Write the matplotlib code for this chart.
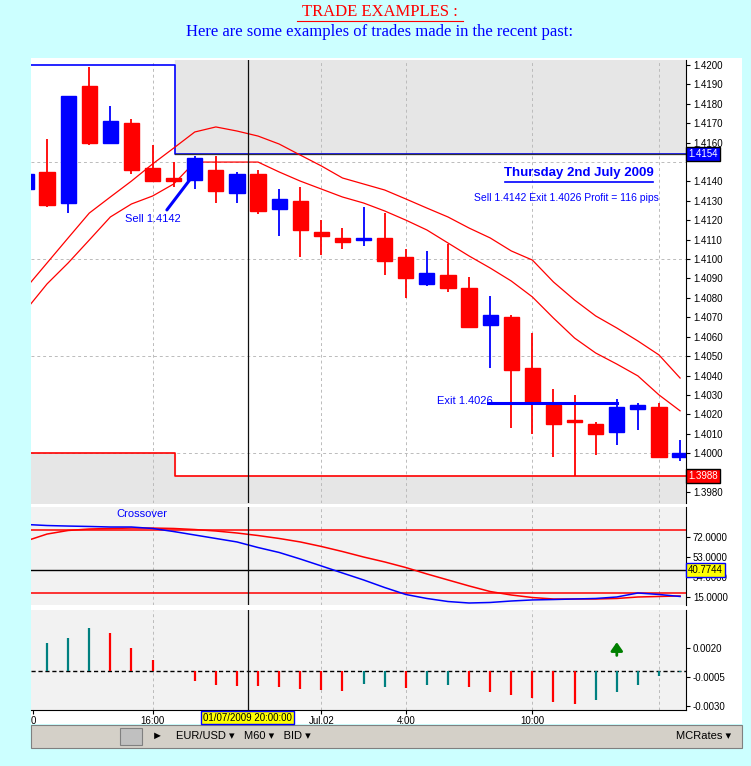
import numpy as np
import matplotlib
matplotlib.use("Agg")
import matplotlib.pyplot as plt
from matplotlib.patches import Rectangle

plt.rcParams['font.family'] = ['Liberation Sans', 'DejaVu Sans']

# hourly EUR/USD candles (open, high, low, close)
opens = [1.4136, 1.4145, 1.4129, 1.4189, 1.4160, 1.4170, 1.4147, 1.4142, 1.4141, 1.4146,
         1.4134, 1.4144, 1.4126, 1.4130, 1.4114, 1.4111, 1.4110, 1.4111, 1.4101, 1.4087,
         1.4092, 1.4085, 1.4066, 1.4070, 1.4044, 1.4025, 1.4017, 1.4015, 1.4011, 1.4023,
         1.4024, 1.3998]
highs = [1.4146, 1.4162, 1.4184, 1.4199, 1.4179, 1.4172, 1.4159, 1.4150, 1.4153, 1.4153,
         1.4145, 1.4146, 1.4136, 1.4137, 1.4120, 1.4116, 1.4127, 1.4124, 1.4105, 1.4104,
         1.4108, 1.4091, 1.4081, 1.4071, 1.4062, 1.4033, 1.4030, 1.4016, 1.4028, 1.4026,
         1.4026, 1.4007]
lows = [1.4134, 1.4127, 1.4124, 1.4159, 1.4160, 1.4144, 1.4140, 1.4137, 1.4136, 1.4129,
        1.4129, 1.4123, 1.4112, 1.4101, 1.4102, 1.4105, 1.4107, 1.4092, 1.4080, 1.4086,
        1.4083, 1.4065, 1.4044, 1.4013, 1.4010, 1.3998, 1.3988, 1.3999, 1.4004, 1.4012,
        1.3998, 1.3996]
closes = [1.4144, 1.4128, 1.4184, 1.4160, 1.4171, 1.4146, 1.4140, 1.4140, 1.4152, 1.4135,
          1.4144, 1.4125, 1.4131, 1.4115, 1.4112, 1.4109, 1.4111, 1.4099, 1.4090, 1.4093,
          1.4085, 1.4065, 1.4071, 1.4043, 1.4026, 1.4015, 1.4016, 1.4010, 1.4024, 1.4025,
          1.3998, 1.4000]

band_upper = [1.40851, 1.40980, 1.41109, 1.41237, 1.41320, 1.41402, 1.41490, 1.41572, 1.41655, 1.41681,
              1.41660, 1.41634, 1.41593, 1.41536, 1.41480, 1.41418, 1.41387, 1.41356, 1.41310, 1.41263,
              1.41217, 1.41160, 1.41109, 1.41042, 1.40995, 1.40882, 1.40789, 1.40707, 1.40645, 1.40578,
              1.40506, 1.40387]
band_lower = [1.40738, 1.40872, 1.40980, 1.41098, 1.41217, 1.41284, 1.41325, 1.41387, 1.41500, 1.41500,
              1.41500, 1.41500, 1.41449, 1.41402, 1.41361, 1.41320, 1.41289, 1.41248, 1.41201, 1.41150,
              1.41083, 1.41016, 1.40954, 1.40887, 1.40805, 1.40696, 1.40593, 1.40516, 1.40459, 1.40398,
              1.40300, 1.40218]

stoch_blue = [83.9, 82.9, 82.4, 82.0, 81.5, 81.5, 80.1, 77.2, 73.9, 70.6, 67.3, 62.0, 57.3, 51.1, 44.5, 37.8,
              31.2, 24.0, 17.4, 13.6, 10.7, 9.3, 9.8, 11.2, 12.2, 12.6, 13.1, 13.6, 15.0, 18.8, 17.4, 15.5]
stoch_red = [68.2, 74.8, 78.2, 79.6, 80.1, 80.5, 80.5, 80.1, 79.1, 77.7, 75.8, 73.4, 70.6, 67.3, 63.0, 58.2,
             53.0, 48.3, 43.0, 36.9, 31.2, 25.5, 20.2, 16.9, 14.5, 13.1, 13.1, 13.1, 13.6, 15.0, 15.5, 16.0]

hist = [0.0, 0.00237, 0.0028, 0.00364, 0.00322, 0.00195, 0.00096, 0.0, -0.00082, -0.00116,
        -0.00124, -0.00124, -0.00133, -0.0015, -0.00158, -0.00167, -0.0011, -0.00138, -0.00144, -0.00121,
        -0.00116, -0.00138, -0.00175, -0.00201, -0.00229, -0.00265, -0.00277, -0.00248, -0.0018, -0.00116,
        -0.00045, -0.0001]
hist_up = [False, True, True, True, False, False, False, False, False, False,
           False, False, False, False, False, False, True, True, False, True,
           True, False, False, False, False, False, False, True, True, True,
           True, True]

price_ticks = [1.4200, 1.4190, 1.4180, 1.4170, 1.4160, 1.4140, 1.4130, 1.4120, 1.4110, 1.4100,
               1.4090, 1.4080, 1.4070, 1.4060, 1.4050, 1.4040, 1.4030, 1.4020, 1.4010, 1.4000, 1.3980]
time_pos = [0.35, 6, 14, 18, 24]
time_labels = ["0", "16:00", "Jul.02", "4:00", "10:00"]
grid_pos = [6, 14, 18, 24, 30]

W, H = 751, 766
BG = '#ccffff'
RED = '#ff0000'
BLUE = '#0000ff'
STEP = 7.06  # where the box / range lines step


def px_axes(fig, l, t, r, b):
    return fig.add_axes([l / W, 1 - b / H, (r - l) / W, (b - t) / H])


fig = plt.figure(figsize=(W / 100, H / 100), dpi=100, facecolor=BG)

# white chart frame + toolbar
fig.patches.append(Rectangle((31 / W, 1 - 724 / H), 711 / W, 666 / H, transform=fig.transFigure,
                             facecolor='white', edgecolor='none', zorder=-5))
fig.patches.append(Rectangle((31 / W, 1 - 748 / H), 711 / W, 23 / H, transform=fig.transFigure,
                             facecolor='#d4d0c8', edgecolor='#808080', lw=0.8, zorder=-5))
fig.patches.append(Rectangle((120 / W, 1 - 745 / H), 22 / W, 17 / H, transform=fig.transFigure,
                             facecolor='#c0c0c0', edgecolor='#808080', lw=0.8, zorder=-4))
fig.text(157 / W, 1 - 736 / H, "►", fontsize=8, va='center', ha='center', color='black')
fig.text(176 / W, 1 - 736 / H, "EUR/USD ▾   M60 ▾   BID ▾", fontsize=8, va='center')
fig.text(704 / W, 1 - 736 / H, "MCRates ▾", fontsize=8, va='center', ha='center')

fig.text(380 / W, 1 - 12 / H, "TRADE EXAMPLES :", color=RED, fontsize=12, ha='center', va='center',
         family='Liberation Serif')
fig.add_artist(plt.Line2D([297 / W, 463 / W], [1 - 21 / H, 1 - 21 / H], color=RED, lw=0.8))
fig.text(380 / W, 1 - 32 / H, "Here are some examples of trades made in the recent past:", color=BLUE,
         fontsize=12, ha='center', va='center', family='Liberation Serif')

idx = np.arange(len(opens))
xlim = (0.24, 31.28)

# ---- main price panel ----
ax = px_axes(fig, 31, 60, 686, 503)
ax.set_xlim(*xlim)
ax.set_ylim(1.39743, 1.42026)
ax.fill_between([STEP, 31.3], 1.4154, 1.4203, color='#e6e6e6', zorder=0)
ax.fill_between([0.2, STEP], 1.3974, 1.4000, color='#e6e6e6', zorder=0)
ax.fill_between([STEP, 31.3], 1.3974, 1.3988, color='#e6e6e6', zorder=0)
ax.plot([0.2, STEP, STEP, 31.3], [1.4200, 1.4200, 1.4154, 1.4154], color=BLUE, lw=1.2, zorder=1)
ax.plot([STEP, 31.3], [1.4154, 1.4154], color='#303030', lw=0.9, zorder=1)
ax.plot([0.2, STEP, STEP, 31.3], [1.4000, 1.4000, 1.3988, 1.3988], color=RED, lw=1.2, zorder=1)
for g in grid_pos:
    ax.axvline(g, color='#bbbbbb', ls=(0, (3, 3)), lw=0.7, zorder=0)
for p in [1.4150, 1.4100, 1.4050, 1.4000]:
    ax.axhline(p, color='#bbbbbb', ls=(0, (3, 3)), lw=0.7, zorder=0)
ax.plot(idx, band_upper, color=RED, lw=0.9, zorder=2)
ax.plot(idx, band_lower, color=RED, lw=0.9, zorder=2)
for i in idx:
    c = BLUE if closes[i] >= opens[i] else RED
    ax.vlines(i, lows[i], highs[i], color=c, lw=1.3, zorder=3)
    lo, hi = min(opens[i], closes[i]), max(opens[i], closes[i])
    ax.add_patch(Rectangle((i - 0.36, lo), 0.72, max(hi - lo, 0.00008), color=c, zorder=4))
ax.axvline(10.5, color='#101010', lw=0.9, zorder=5)
ax.annotate("", xy=(8.0, 1.41442), xytext=(6.6, 1.41242),
            arrowprops=dict(arrowstyle='-', color=BLUE, lw=2.2))
ax.text(6.0, 1.41205, "Sell 1.4142", color=BLUE, fontsize=8, ha='center', va='center')
ax.plot([21.9, 28.0], [1.4026, 1.4026], color=BLUE, lw=2.2, zorder=5)
ax.text(20.8, 1.4027, "Exit 1.4026", color=BLUE, fontsize=8, ha='center', va='center')
ax.text(26.2, 1.41445, "Thursday 2nd July 2009", color=BLUE, fontsize=9.5, fontweight='bold',
        ha='center', va='center')
ax.plot([22.7, 29.7], [1.41395, 1.41395], color=BLUE, lw=1.2)
ax.text(25.6, 1.41315, "Sell 1.4142 Exit 1.4026 Profit = 116 pips", color=BLUE, fontsize=7.5,
        ha='center', va='center')
ax.yaxis.tick_right()
ax.set_yticks(price_ticks)
ax.set_yticklabels([f"{p:.4f}" for p in price_ticks], fontsize=7)
ax.set_xticks([])
ax.tick_params(axis='y', length=3, pad=2)
for s in ['top', 'left', 'bottom']:
    ax.spines[s].set_visible(False)
ax.text(1.003, (1.4154 - 1.39743) / (1.42026 - 1.39743), "1.4154", transform=ax.transAxes, fontsize=7,
        color='white', va='center', ha='left', bbox=dict(facecolor=BLUE, edgecolor='black', pad=1.5))
ax.text(1.003, (1.3988 - 1.39743) / (1.42026 - 1.39743), "1.3988", transform=ax.transAxes, fontsize=7,
        color='white', va='center', ha='left', bbox=dict(facecolor=RED, edgecolor='black', pad=1.5))

# ---- oscillator panel ----
ax2 = px_axes(fig, 31, 507, 686, 605)
ax2.set_facecolor('#f2f2f2')
ax2.set_xlim(*xlim)
ax2.set_ylim(7.4, 100.5)
ax2.axhline(78.6, color=RED, lw=1.1)
ax2.axhline(18.8, color=RED, lw=1.1)
ax2.axhline(40.77, color='black', lw=1.0)
ax2.plot(idx, stoch_red, color=RED, lw=1.1)
ax2.plot(idx, stoch_blue, color=BLUE, lw=1.1)
ax2.axvline(10.5, color='#101010', lw=0.9)
for g in grid_pos:
    ax2.axvline(g, color='#bbbbbb', ls=(0, (3, 3)), lw=0.7, zorder=0)
ax2.text(5.5, 94, "Crossover", color=BLUE, fontsize=8, ha='center', va='center')
ax2.yaxis.tick_right()
ax2.set_yticks([72, 53, 34, 15])
ax2.set_yticklabels(["72.0000", "53.0000", "34.0000", "15.0000"], fontsize=7)
ax2.set_xticks([])
ax2.tick_params(axis='y', length=3, pad=2)
for s in ['top', 'left', 'bottom']:
    ax2.spines[s].set_visible(False)
ax2.text(1.003, (40.77 - 7.4) / 93.1, "40.7744", transform=ax2.transAxes, fontsize=7, zorder=10,
         color='black', va='center', ha='left', bbox=dict(facecolor='yellow', edgecolor=BLUE, pad=1.5))

# ---- histogram panel ----
ax3 = px_axes(fig, 31, 610, 686, 710)
ax3.set_facecolor('#f2f2f2')
ax3.set_xlim(*xlim)
ax3.set_ylim(-0.0033, 0.0052)
ax3.axhline(0, color='black', ls=(0, (3, 2)), lw=1.0)
for i in idx:
    if hist[i] != 0:
        ax3.vlines(i, 0, hist[i], color='#008080' if hist_up[i] else RED, lw=1.6)
ax3.annotate("", xy=(28, 0.0027), xytext=(28, 0.0011),
             arrowprops=dict(arrowstyle='-|>,head_width=0.35,head_length=0.5', color='#008000', lw=2))
ax3.axvline(10.5, color='#101010', lw=0.9)
for g in grid_pos:
    ax3.axvline(g, color='#bbbbbb', ls=(0, (3, 3)), lw=0.7, zorder=0)
ax3.yaxis.tick_right()
ax3.set_yticks([0.002, -0.0005, -0.003])
ax3.set_yticklabels(["0.0020", "-0.0005", "-0.0030"], fontsize=7)
ax3.set_xticks(time_pos)
ax3.set_xticklabels(time_labels, fontsize=7)
ax3.tick_params(axis='x', length=3, pad=1)
ax3.tick_params(axis='y', length=3, pad=2)
for s in ['top', 'left']:
    ax3.spines[s].set_visible(False)
ax3.text(10.5, -0.00395, "01/07/2009 20:00:00", fontsize=7, ha='center', va='center',
         bbox=dict(facecolor='yellow', edgecolor=BLUE, pad=1.2))

fig.savefig("out.png", dpi=100, facecolor=BG)
